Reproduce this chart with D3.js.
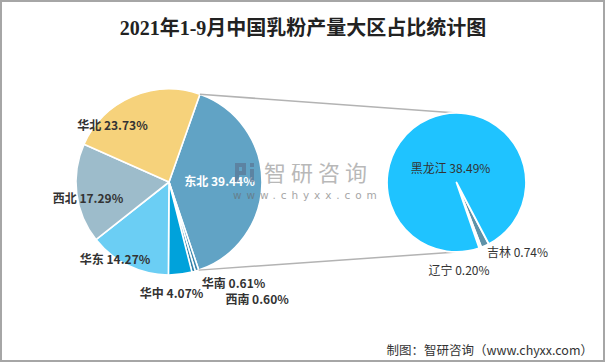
<!DOCTYPE html>
<html><head><meta charset="utf-8">
<script src="https://cdn.jsdelivr.net/npm/d3@7"></script>
<style>html,body{margin:0;padding:0;background:#fff;}svg{display:block;}</style>
</head><body>
<svg id="chart" width="606" height="364"></svg>
<script>
// ---- data ----
const regions = ["东北", "华南", "西南", "华中", "华东", "西北", "华北"];
const regionShares = [39.44, 0.61, 0.60, 4.07, 14.27, 17.29, 23.73];
const provinces = ["吉林", "辽宁", "黑龙江"];
const provinceShares = [0.74, 0.20, 38.49];
const titleText = "2021年1-9月中国乳粉产量大区占比统计图";
const sourceText = "制图：智研咨询（www.chyxx.com）";

// ---- styles / layout ----
const regionColors = ["#61a3c5", "#3b88ae", "#2f80a9", "#00a2db", "#6bcef4", "#9dbccb", "#f6d27b"];
const provinceColors = ["#5f92a8", "#e3f3f9", "#1fc3ff"];
const regionLabelStyle = [
  {dx: -9.5, dy: -2.4, fill: "#ffffff"},
  {dx: 46.5, dy: 42.8, fill: "#333"},
  {dx: 72.2, dy: 59.1, fill: "#333"},
  {dx: -4.7, dy: 51.4, fill: "#333"},
  {dx: -27.6, dy: 22.1, fill: "#333"},
  {dx: -21.5, dy: 7.6, fill: "#333"},
  {dx: -32.8, dy: -1.9, fill: "#333"}
];
const provinceLabelStyle = [
  {dx: 43.8, dy: 31.5},
  {dx: -11.8, dy: 48.3},
  {dx: 10.6, dy: 22.8}
];

const svg = d3.select("#chart");
const deg = Math.PI / 180;

// border
svg.append("rect").attr("x", 1).attr("y", 1).attr("width", 603).attr("height", 360)
  .attr("fill", "#fff").attr("stroke", "#a6a6a6").attr("stroke-width", 2);

// title
svg.append("text").attr("x", 303).attr("y", 35).attr("text-anchor", "middle")
  .attr("font-family", "'Liberation Serif','Noto Sans CJK SC',serif")
  .attr("font-size", 20).attr("font-weight", "bold").attr("fill", "#222")
  .text(titleText);

// ---- left pie ----
const L = {cx: 169, cy: 182, r: 93};
const pieL = d3.pie().sort(null).startAngle(19.4 * deg).endAngle(379.4 * deg);
const arcsL = pieL(regionShares);
const arcL = d3.arc().innerRadius(0).outerRadius(L.r);
const labArcL = d3.arc().innerRadius(60).outerRadius(60);
const gL = svg.append("g").attr("transform", `translate(${L.cx},${L.cy})`);
gL.selectAll("path").data(arcsL).join("path")
  .attr("d", arcL).attr("fill", (d, i) => regionColors[i])
  .attr("stroke", "#fff").attr("stroke-width", 1.6).attr("stroke-linejoin", "round");

// ---- right pie ----
const R = {cx: 456.5, cy: 182.5, r: 69.5};
const pieR = d3.pie().sort(null).startAngle(152.3 * deg).endAngle(512.3 * deg);
const arcsR = pieR(provinceShares);
const arcR = d3.arc().innerRadius(0).outerRadius(R.r);
const labArcR = d3.arc().innerRadius(41.7).outerRadius(41.7);

// connector lines from the 东北 slice edges to the top/bottom of the detail pie
const big = arcsL[0];
const pt = (a, r, c) => [c.cx + r * Math.sin(a), c.cy - r * Math.cos(a)];
const p1 = pt(big.startAngle, L.r, L), p2 = pt(big.endAngle, L.r, L);
const q1 = pt(0, R.r, R), q2 = pt(Math.PI, R.r, R);
svg.append("line").attr("x1", p1[0]).attr("y1", p1[1]).attr("x2", q1[0]).attr("y2", q1[1])
  .attr("stroke", "#b3b3b3").attr("stroke-width", 1.5);
svg.append("line").attr("x1", p2[0]).attr("y1", p2[1]).attr("x2", q2[0]).attr("y2", q2[1])
  .attr("stroke", "#b3b3b3").attr("stroke-width", 1.5);

const gR = svg.append("g").attr("transform", `translate(${R.cx},${R.cy})`);
gR.selectAll("path").data(arcsR).join("path")
  .attr("d", arcR).attr("fill", (d, i) => provinceColors[i])
  .attr("stroke", "#fff").attr("stroke-width", 1.8).attr("stroke-linejoin", "round");

// ---- watermark ----
const wm = svg.append("g").attr("opacity", 0.6);
const logo = [[235,163,4,19],[235,163,11,4],[235,171,11,4],[242,163,4,12],[250,163,4,4],[250,169,4,13]];
wm.selectAll("rect").data(logo).join("rect")
  .attr("x", d => d[0]).attr("y", d => d[1]).attr("width", d => d[2]).attr("height", d => d[3])
  .attr("fill", "#5a6e8c");
wm.append("text").attr("x", 264).attr("y", 181).attr("font-family", "'Noto Sans CJK SC'")
  .attr("font-size", 22).attr("letter-spacing", 5).attr("fill", "#8a8a8a").text("智研咨询");
wm.append("text").attr("x", 233).attr("y", 199).attr("font-family", "'DejaVu Sans',sans-serif")
  .attr("font-size", 10.5).attr("letter-spacing", 4.9).attr("fill", "#6a6a6a").text("www.chyxx.com");

// ---- labels ----
const fmt = v => v.toFixed(2) + "%";
gL.selectAll("text.lab").data(arcsL).join("text").attr("class", "lab")
  .attr("transform", (d, i) => {
    const c = labArcL.centroid(d);
    return `translate(${c[0] + regionLabelStyle[i].dx},${c[1] + regionLabelStyle[i].dy})`;
  })
  .attr("text-anchor", "middle").attr("dominant-baseline", "central")
  .attr("font-family", "'Noto Sans CJK SC',sans-serif").attr("font-size", 12).attr("font-weight", "bold")
  .attr("fill", (d, i) => regionLabelStyle[i].fill)
  .text((d, i) => regions[i] + " " + fmt(regionShares[i]));

gR.selectAll("text.lab").data(arcsR).join("text").attr("class", "lab")
  .attr("transform", (d, i) => {
    const c = labArcR.centroid(d);
    return `translate(${c[0] + provinceLabelStyle[i].dx},${c[1] + provinceLabelStyle[i].dy})`;
  })
  .attr("text-anchor", "middle").attr("dominant-baseline", "central")
  .attr("font-family", "'Noto Sans CJK SC',sans-serif").attr("font-size", 12)
  .attr("fill", "#333")
  .text((d, i) => provinces[i] + " " + fmt(provinceShares[i]));

// source
svg.append("text").attr("x", 593).attr("y", 355).attr("text-anchor", "end")
  .attr("font-family", "'Noto Sans CJK SC',sans-serif").attr("font-size", 12.5).attr("fill", "#333")
  .text(sourceText);
</script>
</body></html>
